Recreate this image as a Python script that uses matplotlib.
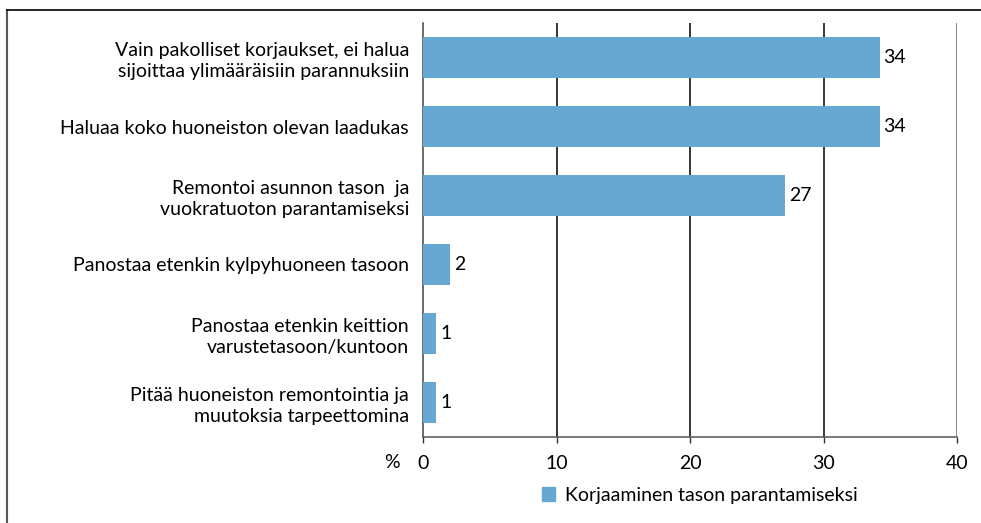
from matplotlib import pyplot as plt
from matplotlib.lines import Line2D

categories = [
    "Vain pakolliset korjaukset, ei halua\nsijoittaa ylimääräisiin parannuksiin",
    "Haluaa koko huoneiston olevan laadukas",
    "Remontoi asunnon tason  ja\nvuokratuoton parantamiseksi",
    "Panostaa etenkin kylpyhuoneen tasoon",
    "Panostaa etenkin keittion\nvarustetasoon/kuntoon",
    "Pitää huoneiston remontointia ja\nmuutoksia tarpeettomina",
]
values = [34.2, 34.2, 27.1, 2.0, 1.0, 1.0]
value_labels = ["34", "34", "27", "2", "1", "1"]
xticks = [0, 10, 20, 30, 40]
series_name = "Korjaaminen tason parantamiseksi"

plt.rcParams["font.family"] = ["Lato", "DejaVu Sans"]
bar_color = "#67A8D3"
fs = 14

fig = plt.figure(figsize=(9.81, 5.23), dpi=100)
ax = fig.add_axes([423 / 981, 1 - 437 / 523, 534 / 981, 414 / 523])

ypos = list(range(len(categories)))
ax.barh(ypos, values, height=0.6, color=bar_color, zorder=3)
ax.set_ylim(len(categories) - 0.5, -0.5)
ax.set_xlim(0, 40)

for y, v, lab in zip(ypos, values, value_labels):
    ax.text(v + 0.3, y, lab, va="center", ha="left", fontsize=fs, zorder=4)

ax.set_yticks(ypos)
ax.set_yticklabels(categories, fontsize=fs, linespacing=1.3)
ax.tick_params(axis="y", length=0, pad=10)

ax.set_xticks(xticks)
ax.set_xticklabels([str(t) for t in xticks], fontsize=fs)
ax.tick_params(axis="x", length=4, width=1, color="#333333", pad=9)

# vertical grid lines at 10, 20, 30 black, 40 gray
for t in xticks[1:-1]:
    ax.axvline(t, color="black", lw=1.1, zorder=2)
ax.axvline(40, color="#808080", lw=1.3, zorder=2)

for s in ["top", "right"]:
    ax.spines[s].set_visible(False)
ax.spines["left"].set_color("#444444")
ax.spines["bottom"].set_color("#555555")
ax.spines["left"].set_linewidth(1.1)
ax.spines["bottom"].set_linewidth(1.1)

fig.text(392 / 981, 1 - 463 / 523, "%", fontsize=fs, ha="center", va="center")

handle = plt.Rectangle((0, 0), 1, 1, color=bar_color)
fig.legend([handle], [series_name], loc="center left",
           bbox_to_anchor=(524 / 981, 1 - 495 / 523), frameon=False,
           fontsize=fs, handlelength=0.7, handleheight=0.7, handletextpad=0.5)

# outer frame (left and top edges only visible)
fig.add_artist(Line2D([6.5 / 981, 6.5 / 981], [0, 1 - 10 / 523],
                      transform=fig.transFigure, color="#555555", lw=1.5))
fig.add_artist(Line2D([6.5 / 981, 1], [1 - 10 / 523, 1 - 10 / 523],
                      transform=fig.transFigure, color="black", lw=1.2))

fig.savefig("out.png", dpi=100)
